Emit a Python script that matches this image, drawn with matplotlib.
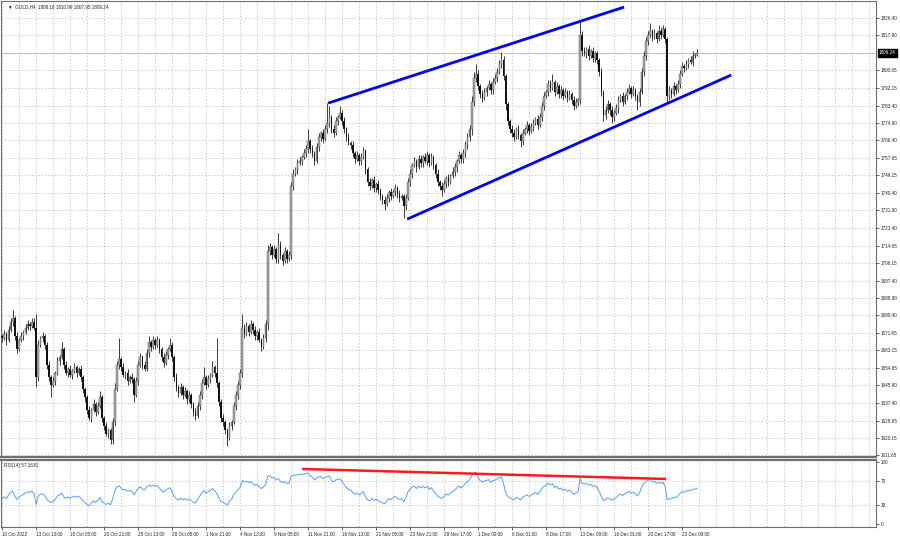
import numpy as np
import matplotlib
matplotlib.use("Agg")
import matplotlib.pyplot as plt
import matplotlib.transforms as mtransforms

## GOLD H4 closes, one per bar
closes = [
    1669, 1671, 1668, 1673, 1677, 1679, 1670, 1664, 1668, 1670, 1672, 1674, 1676, 1675, 1677, 1674, 1650, 1666, 1669, 1670,
    1666, 1656, 1650, 1646, 1648, 1652, 1658, 1660, 1664, 1656, 1652, 1654, 1651, 1653, 1655, 1652, 1654, 1650, 1644, 1640,
    1634, 1630, 1634, 1637, 1633, 1636, 1640, 1630, 1626, 1622, 1624, 1619, 1628, 1644, 1656, 1659, 1655, 1651, 1652, 1648,
    1650, 1649, 1641, 1648, 1656, 1660, 1656, 1654, 1662, 1667, 1665, 1668, 1666, 1668, 1664, 1660, 1657, 1661, 1664, 1666,
    1660, 1650, 1645, 1642, 1645, 1641, 1643, 1639, 1641, 1637, 1633, 1631, 1636, 1641, 1647, 1650, 1646, 1649, 1651, 1655,
    1652, 1647, 1638, 1630, 1628, 1624, 1620, 1626, 1628, 1636, 1641, 1646, 1652, 1674, 1671, 1675, 1672, 1676, 1673, 1670,
    1672, 1668, 1665, 1669, 1676, 1712, 1714, 1710, 1713, 1708, 1715, 1710, 1707, 1712, 1708, 1710, 1744, 1750, 1752, 1755,
    1756, 1758, 1760, 1762, 1766, 1762, 1760, 1756, 1763, 1768, 1770, 1767, 1772, 1775, 1778, 1772, 1770, 1776, 1778, 1780,
    1776, 1772, 1768, 1765, 1764, 1760, 1757, 1759, 1756, 1758, 1761, 1752, 1746, 1744, 1747, 1743, 1745, 1742, 1739, 1737,
    1735, 1738, 1741, 1739, 1741, 1743, 1740, 1738, 1739, 1734, 1738, 1746, 1750, 1754, 1756, 1753, 1757, 1755, 1758, 1756,
    1759, 1755, 1758, 1754, 1750, 1746, 1744, 1742, 1745, 1748, 1746, 1749, 1751, 1753, 1756, 1759, 1757, 1760, 1764, 1768,
    1772, 1785, 1797, 1799, 1793, 1789, 1787, 1790, 1792, 1794, 1791, 1795, 1797, 1800, 1804, 1806, 1798, 1784, 1776, 1772,
    1770, 1768, 1772, 1769, 1766, 1770, 1772, 1774, 1771, 1773, 1775, 1777, 1774, 1778, 1783, 1788, 1790, 1794, 1792, 1795,
    1790, 1793, 1789, 1791, 1788, 1790, 1787, 1789, 1786, 1783, 1785, 1786, 1818, 1810, 1809, 1811, 1808, 1810, 1807, 1809,
    1806, 1800, 1790, 1779, 1781, 1784, 1781, 1778, 1780, 1782, 1786, 1788, 1785, 1788, 1790, 1792, 1789, 1791, 1788, 1785,
    1790, 1800, 1808, 1815, 1818, 1820, 1817, 1819, 1816, 1820, 1818, 1821, 1816, 1788, 1791, 1789, 1793, 1791, 1794, 1799,
    1803, 1802, 1804, 1806, 1805, 1808, 1808.16, 1809.24,
]
first_open = 1670

up_wick = [
    1, 2, 1, 2, 2, 4, 1, 2, 1, 2, 1, 2, 2, 1, 2, 2, 7, 2, 1, 2,
    1, 1, 2, 1, 2, 1, 2, 1, 3, 1, 2, 1, 2, 1, 2, 1, 1, 2, 1, 1,
    1, 2, 1, 2, 1, 2, 3, 1, 1, 2, 1, 1, 2, 3, 2, 10, 1, 2, 1, 2,
    1, 2, 1, 2, 2, 2, 1, 2, 2, 3, 1, 2, 1, 2, 1, 1, 2, 2, 1, 3,
    1, 1, 2, 1, 2, 1, 2, 1, 2, 1, 1, 2, 2, 2, 2, 5, 1, 2, 1, 3,
    1, 17, 1, 1, 2, 1, 1, 2, 1, 2, 2, 2, 2, 7, 2, 2, 1, 2, 1, 2,
    1, 2, 1, 2, 2, 3, 2, 1, 2, 1, 6, 2, 1, 2, 1, 2, 2, 2, 1, 2,
    2, 1, 2, 2, 6, 1, 2, 1, 2, 2, 1, 2, 2, 9.5, 5, 1, 2, 2, 1, 3,
    1, 2, 1, 2, 1, 2, 1, 2, 1, 2, 2, 1, 1, 2, 1, 2, 1, 2, 1, 1,
    2, 2, 1, 2, 1, 2, 1, 2, 1, 1, 2, 2, 2, 1, 2, 1, 2, 2, 1, 2,
    2, 1, 2, 1, 1, 2, 1, 2, 2, 1, 2, 1, 2, 2, 1, 2, 1, 2, 2, 2,
    2, 3, 3, 5, 2, 1, 2, 2, 1, 2, 1, 2, 2, 2, 2, 3.5, 2, 1, 1, 1,
    2, 2, 1, 2, 1, 2, 1, 2, 1, 2, 2, 1, 2, 2, 2, 2, 1, 2, 2, 4,
    1, 2, 1, 2, 1, 2, 1, 2, 1, 2, 2, 1, 6.5, 2, 2, 1, 2, 1, 2, 1,
    1, 1, 2, 1, 2, 2, 1, 2, 1, 2, 2, 1, 2, 1, 2, 2, 1, 2, 1, 1,
    2, 2, 2, 2, 2, 4, 1, 2, 1, 3, 2, 2, 1, 1, 2, 1, 2, 1, 2, 2,
    2, 1, 2, 1, 2, 2, 1, 1.75,
]
dn_wick = [
    2, 1, 2, 1, 1, 2, 2, 2, 1, 1, 2, 1, 1, 2, 1, 1, 5, 2, 1, 2,
    2, 2, 2, 6, 1, 2, 1, 2, 1, 2, 1, 2, 1, 2, 1, 2, 1, 2, 2, 2,
    2, 1, 2, 1, 2, 1, 1, 2, 2, 1, 2, 2, 2, 2, 1, 2, 2, 1, 2, 2,
    1, 2, 3, 1, 2, 1, 2, 1, 1, 2, 2, 1, 2, 1, 2, 2, 2, 1, 2, 1,
    2, 2, 2, 2, 1, 2, 1, 2, 1, 2, 2, 2, 1, 2, 2, 1, 2, 1, 2, 1,
    2, 2, 2, 2, 2, 2, 4, 1, 2, 1, 2, 2, 2, 2, 2, 1, 2, 1, 2, 2,
    2, 1, 2, 1, 2, 3, 2, 2, 1, 2, 2, 2, 2, 1, 2, 1, 2, 2, 1, 2,
    1, 2, 1, 2, 2, 2, 2, 2, 1, 2, 2, 2, 1, 2, 2, 2, 2, 1, 2, 1,
    2, 2, 2, 1, 2, 2, 2, 1, 2, 2, 1, 2, 2, 2, 1, 2, 2, 2, 2, 2,
    3, 1, 2, 2, 1, 2, 2, 2, 1, 6, 2, 1, 2, 2, 1, 2, 1, 2, 2, 1,
    2, 2, 1, 2, 2, 2, 2, 3, 1, 2, 2, 1, 1, 2, 2, 1, 2, 2, 2, 2,
    2, 3, 2, 2, 2, 2, 2, 1, 2, 1, 2, 2, 1, 2, 1, 2, 2, 3, 2, 2,
    2, 2, 1, 2, 3, 2, 1, 2, 2, 1, 2, 1, 2, 1, 2, 2, 1, 2, 2, 1,
    2, 1, 2, 2, 2, 1, 2, 1, 2, 2, 1, 2, 2, 2, 1, 2, 2, 1, 2, 2,
    2, 2, 2, 3, 2, 1, 2, 3, 2, 1, 2, 1, 2, 1, 2, 1, 2, 1, 2, 4,
    2, 1, 2, 2, 2, 1, 2, 1, 2, 1, 2, 1, 2, 3, 2, 2, 1, 2, 1, 2,
    1, 2, 1, 2, 1, 2, 1, 0.21,
]

price_ticks = [1826.40, 1817.90, 1800.65, 1792.15, 1783.40, 1774.90, 1766.40, 1757.65, 1749.15,
               1740.40, 1731.90, 1723.40, 1714.65, 1706.15, 1697.40, 1688.90, 1680.40, 1671.65,
               1663.15, 1654.65, 1645.90, 1637.40, 1628.65, 1620.15, 1611.65]
grid_prices = price_ticks + [1809.15]
rsi_ticks = [100, 70, 30, 0]

date_labels = ["10 Oct 2022", "13 Oct 13:00", "18 Oct 05:00", "20 Oct 21:00", "25 Oct 13:00",
               "28 Oct 05:00", "1 Nov 21:00", "4 Nov 13:00", "9 Nov 05:00", "11 Nov 21:00",
               "16 Nov 13:00", "21 Nov 05:00", "23 Nov 21:00", "28 Nov 17:00", "1 Dec 09:00",
               "6 Dec 01:00", "8 Dec 17:00", "13 Dec 09:00", "16 Dec 01:00", "20 Dec 17:00",
               "23 Dec 09:00"]
bars_per_label = 16

## trendlines (bar index, price) and rsi divergence line (bar index, rsi)
upper_channel = [(153.4, 1784.6), (292.7, 1831.8)]
lower_channel = [(190.6, 1727.6), (343.1, 1798.4)]
rsi_line = [(141.2, 88.7), (312.5, 72.6)]

bid = 1809.24
header = "\u25bc  GOLD,H4  1808.16 1810.99 1807.95 1809.24"
rsi_header = "RSI(14) 57.1630"
rsi_seed = (1.6, 2.2)  # avg gain / avg loss before the first visible bar

closes = np.array(closes, dtype=float)
opens = np.concatenate([[first_open], closes[:-1]])
highs = np.maximum(opens, closes) + np.array(up_wick)
lows = np.minimum(opens, closes) - np.array(dn_wick)
n = len(closes)
idx = np.arange(n)

## Wilder RSI(14)
ag, al = rsi_seed
rsi = []
prev = first_open
for c in closes:
    d = c - prev
    ag = (ag * 13 + max(d, 0)) / 14
    al = (al * 13 + max(-d, 0)) / 14
    rsi.append(100 - 100 / (1 + ag / al))
    prev = c

fig = plt.figure(figsize=(9, 5.39), dpi=100)
ax = fig.add_axes([0.0012, 0.152, 0.9722, 0.846])
ax2 = fig.add_axes([0.0012, 0.0223, 0.9722, 0.1243], sharex=ax)

gridkw = dict(color="#c8c8c8", linestyle=(0, (2, 2)), linewidth=0.6, zorder=0)
vgrid = np.arange(0, 420, 8)
for a in (ax, ax2):
    for v in vgrid:
        a.axvline(v, **gridkw)
for p in grid_prices:
    ax.axhline(p, **gridkw)
for r in (70, 30):
    ax2.axhline(r, **gridkw)

ax.axhline(bid, color="#c0c0c0", linewidth=0.8, zorder=1)

## candles
bull = closes >= opens
ax.vlines(idx, lows, highs, color="#3a3a3a", linewidth=0.7, zorder=2)
body_h = np.maximum(np.abs(closes - opens), 0.4)
body_b = np.minimum(opens, closes)
ax.bar(idx[bull], body_h[bull], bottom=body_b[bull], width=0.75,
       color="#a8a8a8", edgecolor="#505050", linewidth=0.3, zorder=3)
ax.bar(idx[~bull], body_h[~bull], bottom=body_b[~bull], width=0.75,
       color="#111111", linewidth=0, zorder=3)

for line in (upper_channel, lower_channel):
    xs, ys = zip(*line)
    ax.plot(xs, ys, color="#0000ff", linewidth=2, solid_capstyle="butt", zorder=5)

ax.set_xlim(-0.5, 411.3)
ax.set_ylim(1610.7, 1834.75)

## rsi panel
ax2.plot(idx, rsi, color="#55a0f5", linewidth=0.7, zorder=3)
xs, ys = zip(*rsi_line)
ax2.plot(xs, ys, color="#ff1a1a", linewidth=1.8, solid_capstyle="butt", zorder=4)
ax2.set_ylim(-4.8, 103.2)

tiny = dict(fontsize=3.3, family="Liberation Sans")
for a, ticks in ((ax, price_ticks), (ax2, rsi_ticks)):
    a.yaxis.tick_right()
    a.set_yticks(ticks)
    a.set_yticklabels([f"{t:.2f}" if a is ax else str(t) for t in ticks], **tiny)
    a.tick_params(axis="y", direction="out", length=2, width=0.5, pad=1.5, colors="#222222")
    for s in a.spines.values():
        s.set_color("#6e6e6e")
        s.set_linewidth(0.8)

ax.spines["bottom"].set_linewidth(1.6)
ax2.spines["top"].set_linewidth(1.6)
ax.tick_params(axis="x", bottom=False, labelbottom=False)

tick_pos = np.arange(len(date_labels)) * bars_per_label
ax2.set_xticks(tick_pos)
ax2.set_xticklabels(date_labels, ha="left", **tiny)
ax2.tick_params(axis="x", direction="out", length=2, width=0.5, pad=1.5, colors="#222222")

## current price box
trans = mtransforms.blended_transform_factory(ax.transAxes, ax.transData)
ax.text(1.003, bid, f"{bid:.2f}", transform=trans, ha="left", va="center",
        color="white", fontsize=3.3, family="Liberation Sans",
        bbox=dict(boxstyle="square,pad=0.25", facecolor="black", edgecolor="black"), zorder=6,
        clip_on=False)

ax.text(0.008, 0.992, header, transform=ax.transAxes, ha="left", va="top",
        fontsize=3.3, family=["Liberation Sans", "DejaVu Sans"], color="#222222")
ax2.text(0.003, 0.95, rsi_header, transform=ax2.transAxes, ha="left", va="top",
         fontsize=3.3, family="Liberation Sans", color="#222222")

fig.savefig("out.png", dpi=100, facecolor="white")
